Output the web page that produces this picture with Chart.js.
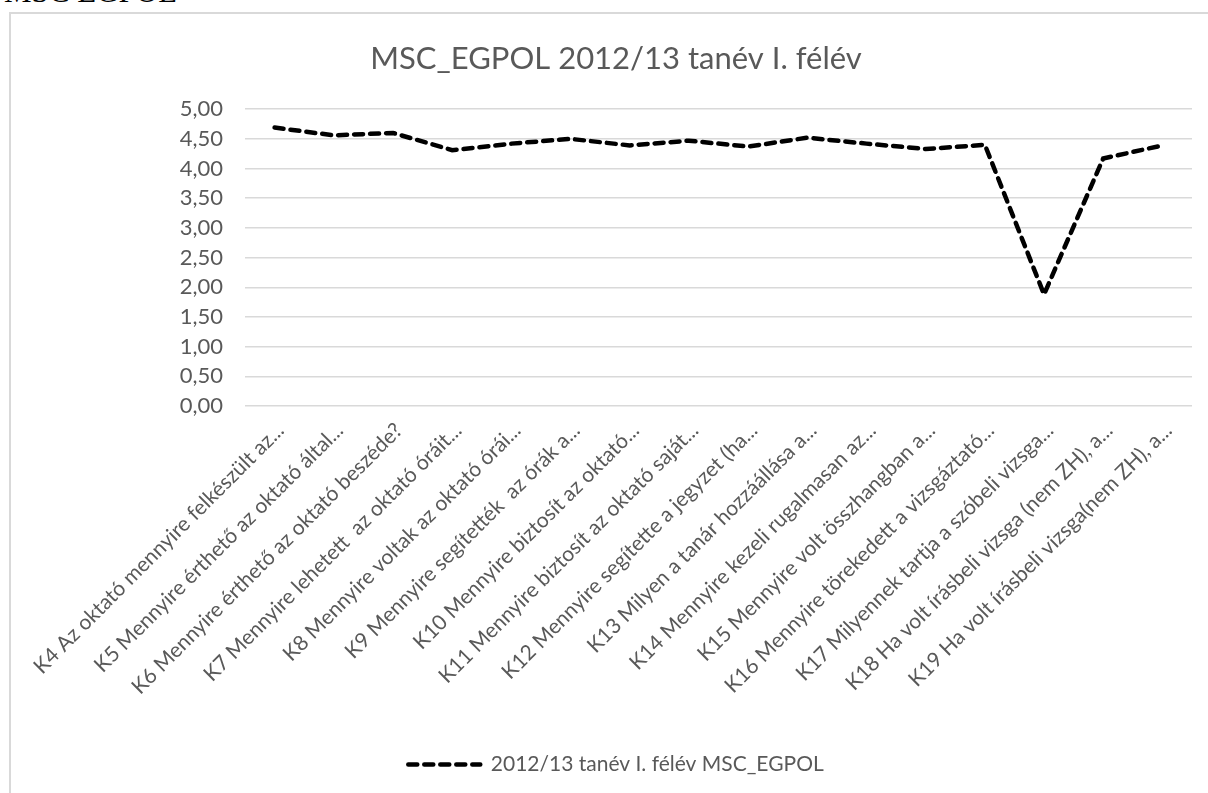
<!DOCTYPE html>
<html lang="hu">
<head>
    <meta charset="UTF-8">
    <title>MSC_EGPOL 2012/13 tanév I. félév</title>
    <style>
        body {
            margin: 0;
            width: 1208px;
            height: 793px;
            overflow: hidden;
            background: #ffffff;
            position: relative;
        }
        /* clipped heading left over from the page above the chart */
        #pageHead {
            position: absolute;
            left: 4px;
            top: -24px;
            font-family: "Liberation Serif", serif;
            font-size: 31px;
            line-height: 1;
            color: #000;
            white-space: nowrap;
        }
        #frame {
            position: absolute;
            left: 9px;
            top: 12px;
            width: 1240px;
            height: 800px;
            border: 2px solid #d9d9d9;
            box-sizing: border-box;
        }
        #chartBox {
            position: absolute;
            left: 11px;
            top: 14px;
            width: 1210px;
            height: 779px;
        }
    </style>
    <script src="https://cdn.jsdelivr.net/npm/chart.js"></script>
</head>
<body>
    <div id="pageHead">MSC EGPOL</div>
    <div id="frame"></div>
    <div id="chartBox"><canvas id="lineChart"></canvas></div>
    <script>
        const chartTitle = 'MSC_EGPOL 2012/13 tanév I. félév';
        const seriesName = '2012/13 tanév I. félév MSC_EGPOL';

        const categories = [
            'K4 Az oktató mennyire felkészült az...',
            'K5 Mennyire érthető az oktató által...',
            'K6 Mennyire érthető az oktató beszéde?',
            'K7 Mennyire lehetett  az oktató óráit...',
            'K8 Mennyire voltak az oktató órái...',
            'K9 Mennyire segítették  az órák a...',
            'K10 Mennyire biztosít az oktató...',
            'K11 Mennyire biztosít az oktató saját...',
            'K12 Mennyire segítette a jegyzet (ha...',
            'K13 Milyen a tanár hozzáállása a...',
            'K14 Mennyire kezeli rugalmasan az...',
            'K15 Mennyire volt összhangban a...',
            'K16 Mennyire törekedett a vizsgáztató...',
            'K17 Milyennek tartja a szóbeli vizsga...',
            'K18 Ha volt írásbeli vizsga (nem ZH), a...',
            'K19 Ha volt írásbeli vizsga(nem ZH), a...'
        ];

        const averages = [4.69, 4.56, 4.60, 4.31, 4.42, 4.50, 4.39, 4.47,
                          4.37, 4.52, 4.42, 4.33, 4.40, 1.88, 4.17, 4.39];

        const yMin = 0;
        const yMax = 5;
        const yStep = 0.5;

        const grey = '#595959';
        const font = 'Lato';
        const dash = [9, 7];

        const ctx = document.getElementById('lineChart').getContext('2d');
        new Chart(ctx, {
            type: 'line',
            data: {
                labels: categories,
                datasets: [{
                    label: seriesName,
                    data: averages,
                    borderColor: '#000000',
                    backgroundColor: '#000000',
                    borderWidth: 4.5,
                    borderDash: dash,
                    borderCapStyle: 'round',
                    pointRadius: 0,
                    tension: 0,
                    fill: false
                }]
            },
            options: {
                responsive: true,
                maintainAspectRatio: false,
                animation: false,
                layout: {
                    padding: { left: 0, right: 0, top: 0, bottom: 8 }
                },
                plugins: {
                    title: {
                        display: true,
                        text: chartTitle,
                        color: grey,
                        font: { family: font, size: 31, weight: 'normal' },
                        padding: { top: 26, bottom: 32 }
                    },
                    legend: {
                        position: 'bottom',
                        labels: {
                            color: grey,
                            font: { family: font, size: 21 },
                            usePointStyle: true,
                            pointStyle: 'line',
                            pointStyleWidth: 72,
                            padding: 8,
                            // point style legend drops the dash, put it back
                            generateLabels: function (chart) {
                                const items = Chart.defaults.plugins.legend.labels.generateLabels(chart);
                                items.forEach(function (it) {
                                    it.lineDash = dash;
                                    it.lineWidth = 4.5;
                                    it.lineCap = 'round';
                                    it.strokeStyle = '#000000';
                                });
                                return items;
                            }
                        }
                    },
                    tooltip: { enabled: false }
                },
                scales: {
                    x: {
                        offset: true,
                        grid: { display: false, offset: true },
                        border: { display: false },
                        ticks: {
                            color: grey,
                            font: { family: font, size: 21 },
                            autoSkip: false,
                            maxRotation: 45,
                            minRotation: 45,
                            padding: 4,
                            labelOffset: 6
                        },
                        afterFit: function (scale) {
                            scale.height = 340;
                            // long slanted labels must not push the plot area around
                            scale.paddingLeft = 0;
                            scale.paddingRight = 0;
                        }
                    },
                    y: {
                        min: yMin,
                        max: yMax,
                        grid: { color: '#d9d9d9', lineWidth: 1.5, drawTicks: false },
                        border: { display: false },
                        ticks: {
                            stepSize: yStep,
                            color: grey,
                            padding: 22,
                            font: { family: font, size: 22 },
                            callback: function (v) {
                                return Number(v).toFixed(2).replace('.', ',');
                            }
                        },
                        afterFit: function (scale) {
                            scale.width = 234;
                        }
                    },
                    // empty right-hand gutter so title and legend stay centred on the frame
                    gutter: {
                        type: 'linear',
                        position: 'right',
                        grid: { display: false },
                        border: { display: false },
                        ticks: { display: false },
                        afterFit: function (scale) {
                            scale.width = 29;
                        }
                    }
                }
            }
        });
    </script>
</body>
</html>
